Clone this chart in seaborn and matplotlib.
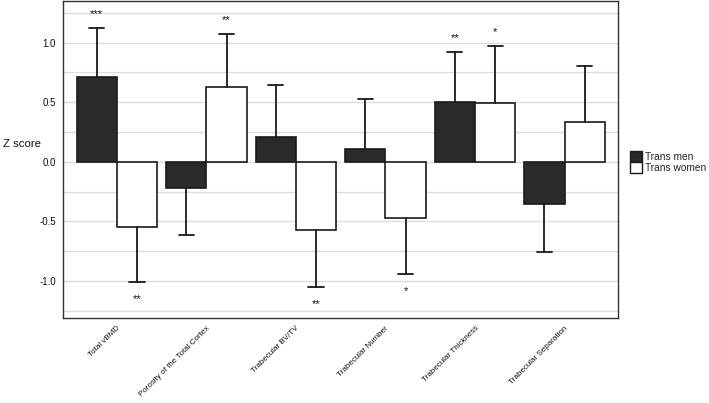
import numpy as np
import pandas as pd
import matplotlib
matplotlib.use('Agg')
import matplotlib.pyplot as plt
import seaborn as sns
from matplotlib.patches import Patch

# bone parameters (Z scores)
categories = ['Total vBMD', 'Porosity of the Total Cortex', 'Trabecular BV/TV',
              'Trabecular Number', 'Trabecular Thickness', 'Trabecular Separation']
groups = ['Trans men', 'Trans women']
men_mean = [0.71, -0.22, 0.21, 0.11, 0.50, -0.35]
men_err = [0.41, 0.39, 0.43, 0.42, 0.42, 0.41]
women_mean = [-0.55, 0.63, -0.57, -0.47, 0.49, 0.33]
women_err = [0.46, 0.44, 0.48, 0.47, 0.48, 0.47]
men_sig = ['***', '', '', '', '**', '']
women_sig = ['**', '**', '**', '*', '*', '']

df = pd.DataFrame({
    'param': categories * 2,
    'group': [groups[0]] * 6 + [groups[1]] * 6,
    'z': men_mean + women_mean,
})

sns.set_style('white')
plt.rcParams['font.family'] = ['Liberation Sans', 'DejaVu Sans']

fig = plt.figure(figsize=(7.09, 4.03), dpi=100)
ax = fig.add_axes([0.089, 0.211, 0.783, 0.787])

ax.set_yticks(np.arange(-1.25, 1.3, 0.25), minor=True)
ax.yaxis.grid(True, which='both', color='#dedede', linewidth=1.0)
ax.set_axisbelow(True)

sns.barplot(data=df, x='param', y='z', hue='group', order=categories,
            hue_order=groups, palette=['#2a2a2a', 'white'], width=0.9, gap=0,
            edgecolor='#1a1a1a', linewidth=1.2, errorbar=None, legend=False, ax=ax)

# one-sided error bars and significance marks
bars = ax.patches
for k, (means, errs, sig) in enumerate([(men_mean, men_err, men_sig),
                                         (women_mean, women_err, women_sig)]):
    for i in range(len(categories)):
        b = bars[k * len(categories) + i]
        xc = b.get_x() + b.get_width() / 2
        m = means[i]
        sgn = 1 if m >= 0 else -1
        end = m + sgn * errs[i]
        ax.plot([xc, xc], [m, end], color='#1a1a1a', lw=1.3, zorder=1)
        ax.plot([xc - 0.085, xc + 0.085], [end, end], color='#1a1a1a', lw=1.3, zorder=1)
        if sig[i]:
            off = 0.12 if sgn > 0 else 0.145
            ax.text(xc, end + sgn * off, sig[i], ha='center', va='center',
                    fontsize=8, color='#111111')

ax.set_xlim(-0.6, 5.6)
ax.set_ylim(-1.31, 1.35)
ax.set_yticks([-1.0, -0.5, 0.0, 0.5, 1.0])
ax.set_yticklabels(['-1.0', '-0.5', '0.0', '0.5', '1.0'], fontsize=7, color='#111111')
ax.set_xticks(range(len(categories)))
ax.set_xticklabels(categories, rotation=45, ha='right', rotation_mode='anchor',
                   fontsize=5.8, color='#111111')
ax.tick_params(axis='both', which='major', length=3, width=0.8, color='#333333', pad=2)
ax.tick_params(axis='y', which='minor', length=0)
ax.set_xlabel('')
ax.set_ylabel('')
fig.text(3 / 709, 1 - 144 / 403, 'Z score', fontsize=8.2, ha='left', va='center',
         color='#111111')
for sp in ax.spines.values():
    sp.set_color('#333333')
    sp.set_linewidth(1.0)

handles = [Patch(facecolor='#2a2a2a', edgecolor='#1a1a1a', label=groups[0]),
           Patch(facecolor='white', edgecolor='#1a1a1a', label=groups[1])]
fig.legend(handles=handles, loc='center left', bbox_to_anchor=(630 / 709, 1 - 162 / 403),
           frameon=False, fontsize=7.3, handlelength=1.2, handleheight=1.25,
           handletextpad=0.3, labelspacing=0.05, borderaxespad=0, borderpad=0)

fig.savefig('out.png', dpi=100)
